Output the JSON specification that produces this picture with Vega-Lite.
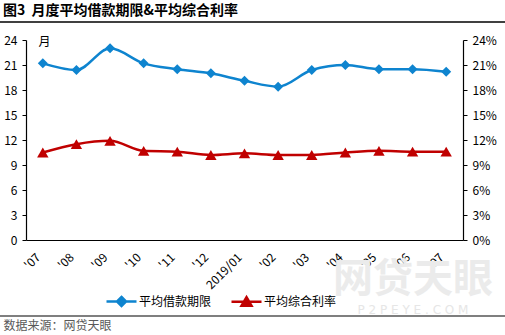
{
  "$schema": "https://vega.github.io/schema/vega-lite/v6.json",
  "width": 437,
  "height": 200,
  "autosize": "none",
  "padding": {"left": 26, "top": 40, "right": 42, "bottom": 95},
  "background": "white",
  "config": {
    "font": "Noto Sans CJK SC",
    "view": {"stroke": null},
    "axis": {"labelFont": "Noto Sans CJK SC", "labelColor": "#000", "labelFontSize": 12, "domainColor": "#000", "tickColor": "#000", "grid": false, "domainWidth": 1.2}
  },
  "title": {"text": "图3\u00a0\u00a0月度平均借款期限&平均综合利率", "anchor": "start", "frame": "group", "dx": -23, "offset": 20, "dy": 17, "fontSize": 14, "fontWeight": "bold", "color": "#000", "font": "Noto Sans CJK SC"},
  "data": {"values": [
    {"month": "2018/07", "period": 21.2, "rate": 0.105},
    {"month": "2018/08", "period": 20.4, "rate": 0.115},
    {"month": "2018/09", "period": 23.0, "rate": 0.119},
    {"month": "2018/10", "period": 21.2, "rate": 0.107},
    {"month": "2018/11", "period": 20.5, "rate": 0.106},
    {"month": "2018/12", "period": 20.0, "rate": 0.102},
    {"month": "2019/01", "period": 19.1, "rate": 0.104},
    {"month": "2019/02", "period": 18.4, "rate": 0.102},
    {"month": "2019/03", "period": 20.4, "rate": 0.102},
    {"month": "2019/04", "period": 21.0, "rate": 0.105},
    {"month": "2019/05", "period": 20.5, "rate": 0.107},
    {"month": "2019/06", "period": 20.5, "rate": 0.106},
    {"month": "2019/07", "period": 20.2, "rate": 0.106}
  ]},
  "layer": [
    {
      "data": {"values": [{"t": "网贷天眼"}]},
      "mark": {"type": "text", "fontSize": 40, "fontWeight": "bold", "color": "#ebebeb", "align": "center", "baseline": "middle", "font": "Noto Sans CJK SC"},
      "encoding": {"text": {"field": "t"}, "x": {"value": 387}, "y": {"value": 240}}
    },
    {
      "data": {"values": [{"t": "P  2  P  E  Y  E  .  C  O  M"}]},
      "mark": {"type": "text", "fontSize": 12, "color": "#e6e6e6", "align": "center", "baseline": "middle", "font": "DejaVu Sans"},
      "encoding": {"text": {"field": "t"}, "x": {"value": 387}, "y": {"value": 270}}
    },
    {
      "data": {"values": [{}]},
      "mark": {"type": "rule", "color": "#000", "strokeWidth": 1.5},
      "encoding": {"x": {"value": -26}, "x2": {"value": 479}, "y": {"value": -18}}
    },
    {
      "data": {"values": [{}]},
      "mark": {"type": "rule", "color": "#000", "strokeWidth": 1.2},
      "encoding": {"x": {"value": -26}, "x2": {"value": 479}, "y": {"value": 276}}
    },
    {
      "mark": {"type": "line", "interpolate": "monotone", "strokeWidth": 2.5, "point": {"shape": "diamond", "size": 100, "filled": true, "opacity": 1}},
      "encoding": {
        "x": {"field": "month", "type": "ordinal", "sort": null,
          "axis": {"labelAngle": -45, "labelAlign": "right", "labelBaseline": "middle", "ticks": false, "labelPadding": 15, "labelOffset": -5,
            "labelExpr": "datum.value == '2019/01' ? '2019/01' : \"'\" + slice(datum.value, 5)",
            "title": "数据来源：网贷天眼", "titleX": -23, "titleY": 85, "titleAlign": "left", "titleAnchor": null, "titleBaseline": "middle", "titleColor": "#595959", "titleFontWeight": "normal", "titleFontSize": 12, "titleFont": "Noto Sans CJK SC"}},
        "y": {"field": "period", "type": "quantitative", "scale": {"domain": [0, 24]},
          "axis": {"orient": "left", "values": [0, 3, 6, 9, 12, 15, 18, 21, 24], "tickSize": 4, "labelPadding": 5,
            "title": "月", "titleAngle": 0, "titleX": 12, "titleY": 1, "titleAlign": "left", "titleBaseline": "middle", "titleFontWeight": "normal", "titleFontSize": 12, "titleColor": "#000", "titleFont": "Noto Sans CJK SC"}},
        "color": {"datum": "平均借款期限", "type": "nominal",
          "scale": {"domain": ["平均借款期限", "平均综合利率"], "range": ["#0E84CF", "#C00000"]},
          "legend": {"orient": "none", "legendX": 84, "legendY": 250, "direction": "horizontal", "title": null,
            "symbolSize": 400, "labelOffset": 6, "columnPadding": 14, "padding": 0, "labelFontSize": 12, "labelColor": "#000", "labelFont": "Noto Sans CJK SC",
            "symbolStrokeWidth": 2.5,
            "encode": {"symbols": {"update": {
              "shape": {"signal": "datum.value === '平均借款期限' ? 'M-1.5,0H1.5M0,-0.45L0.45,0L0,0.45L-0.45,0Z' : 'M-1.5,0H1.5M0,-0.45L0.5,0.4L-0.5,0.4Z'"},
              "fill": {"scale": "color", "field": "value"},
              "stroke": {"scale": "color", "field": "value"},
              "strokeWidth": {"value": 2.5}
            }}}}}
      }
    },
    {
      "mark": {"type": "line", "interpolate": "monotone", "strokeWidth": 2.5, "point": {"shape": "triangle-up", "size": 130, "filled": true, "opacity": 1}},
      "encoding": {
        "x": {"field": "month", "type": "ordinal", "sort": null},
        "y": {"field": "rate", "type": "quantitative", "scale": {"domain": [0, 0.24]},
          "axis": {"orient": "right", "values": [0, 0.03, 0.06, 0.09, 0.12, 0.15, 0.18, 0.21, 0.24], "format": ".0%", "tickSize": 4, "labelPadding": 5, "title": null}},
        "color": {"datum": "平均综合利率", "type": "nominal"}
      }
    }
  ],
  "resolve": {"scale": {"y": "independent"}}
}
